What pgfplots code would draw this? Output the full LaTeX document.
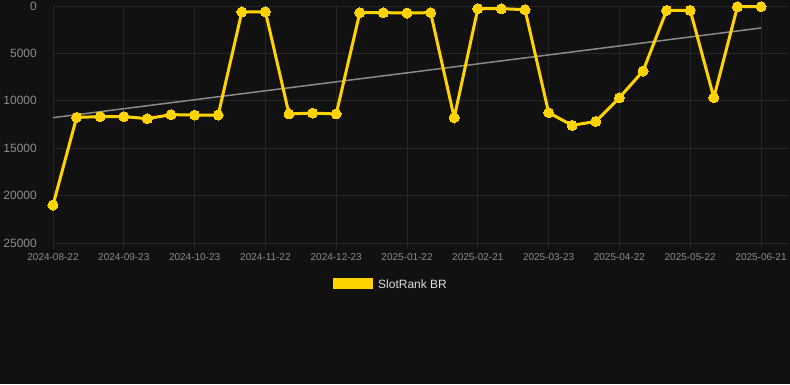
\documentclass[border=0pt]{standalone}
\usepackage{pgfplots}
\pgfplotsset{compat=1.18}
\usepackage{fontspec}
\setmainfont{Liberation Sans}
\definecolor{bg}{HTML}{111111}
\definecolor{gridc}{HTML}{262626}
\definecolor{tickc}{HTML}{8C8C8C}
\definecolor{yel}{HTML}{FFD300}
\definecolor{trend}{HTML}{8A8A8A}
\definecolor{legt}{HTML}{DDDDDD}
\begin{document}
\begin{tikzpicture}[x=1pt,y=1pt]
\fill[bg] (0,0) rectangle (790,384);
\begin{axis}[
  at={(53pt,141pt)}, anchor=south west,
  scale only axis, width=734pt, height=237pt,
  xmin=0, xmax=31.1, ymin=0, ymax=25000, y dir=reverse,
  clip=false, scaled y ticks=false,
  axis line style={draw=none},
  grid=major, grid style={gridc, line width=0.8pt},
  xtick={0,3,...,30},
  xticklabels={2024-08-22,2024-09-23,2024-10-23,2024-11-22,2024-12-23,2025-01-22,2025-02-21,2025-03-23,2025-04-22,2025-05-22,2025-06-21},
  ytick={0,5000,10000,15000,20000,25000},
  yticklabels={0,5000,10000,15000,20000,25000},
  tick align=outside, xtick pos=bottom, ytick pos=left,
  major tick length=6pt,
  xtick style={gridc, line width=0.8pt},
  ytick style={draw=none},
  xticklabel style={font=\fontsize{10}{12}\selectfont, text=tickc, anchor=north, inner sep=0pt, yshift=-4pt},
  yticklabel style={font=\fontsize{12}{14}\selectfont, text=tickc, anchor=east, inner sep=0pt, xshift=-10pt},
]
\addplot[trend, line width=1.5pt] coordinates {(0,11780) (30,2320)};
\addplot[yel, line width=3pt, mark=*, mark size=5pt, mark options={fill=yel, draw=yel, line width=0pt}] coordinates {
(0,21000) (1,11750) (2,11670) (3,11670) (4,11880) (5,11460) (6,11500) (7,11500)
(8,630) (9,600) (10,11390) (11,11290) (12,11390) (13,700) (14,700) (15,740)
(16,700) (17,11780) (18,280) (19,280) (20,390) (21,11250) (22,12590) (23,12170)
(24,9670) (25,6860) (26,460) (27,460) (28,9670) (29,70) (30,70)};
\end{axis}
\fill[yel] (333,95) rectangle (373,106);
\node[anchor=west, text=legt, font=\fontsize{12}{14}\selectfont, inner sep=0pt] at (378,100) {SlotRank BR};
\end{tikzpicture}
\end{document}
